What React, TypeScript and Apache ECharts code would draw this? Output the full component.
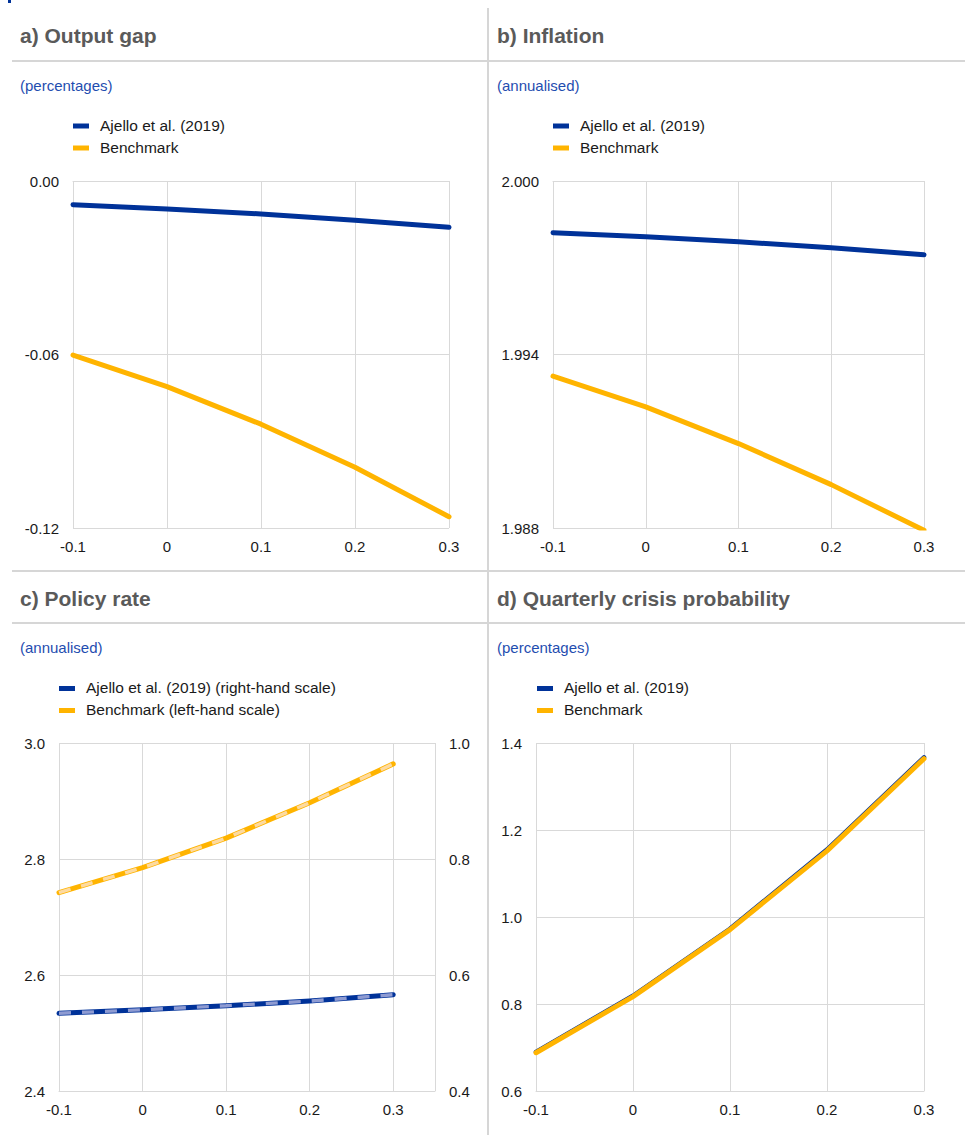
import React, { useEffect, useRef } from "react";
import * as echarts from "echarts";

// ---- data ----
const xValues = [-0.1, 0, 0.1, 0.2, 0.3];
const xTickLabels = ["-0.1", "0", "0.1", "0.2", "0.3"];

const outputGapAjello = [-0.0082, -0.0097, -0.0114, -0.0136, -0.016];
const outputGapBenchmark = [-0.0602, -0.0711, -0.0841, -0.099, -0.1161];

const inflationAjello = [1.99821, 1.99807, 1.9979, 1.99769, 1.99745];
const inflationBenchmark = [1.99325, 1.99219, 1.99092, 1.9895, 1.98792];

const policyAjello = [0.534, 0.54, 0.547, 0.555, 0.566]; // right-hand scale
const policyBenchmark = [2.742, 2.785, 2.836, 2.897, 2.964]; // left-hand scale

const crisisAjello = [0.69, 0.819, 0.973, 1.155, 1.367];
const crisisBenchmark = [0.688, 0.817, 0.971, 1.152, 1.364];

const panelTitles = [
  "a) Output gap",
  "b) Inflation",
  "c) Policy rate",
  "d) Quarterly crisis probability",
];
const panelUnits = ["(percentages)", "(annualised)", "(annualised)", "(percentages)"];
const legendA = ["Ajello et al. (2019)", "Benchmark"];
const legendB = ["Ajello et al. (2019)", "Benchmark"];
const legendC = ["Ajello et al. (2019) (right-hand scale)", "Benchmark (left-hand scale)"];
const legendD = ["Ajello et al. (2019)", "Benchmark"];

const inflationBase = 2.0;

// ---- style ----
const BLUE = "#003299";
const ORANGE = "#FFB400";
const BLUE_LIGHT = "#8e9bd2";
const ORANGE_LIGHT = "#fddaa0";
const GRID_COLOR = "#d9d9d9";
const SEP_COLOR = "#d6d6d6";
const FONT = "'Liberation Sans', Arial, Helvetica, sans-serif";
const TEXT_COLOR = "#1a1a1a";
const TITLE_COLOR = "#5a5a5a";
const UNIT_COLOR = "#1f4db0";

const pair = (ys: number[], shift = 0) => xValues.map((x, i) => [x, ys[i] - shift]);

const fmtX = (v: number) => {
  const r = Math.round(v * 10) / 10;
  const idx = xValues.findIndex((x) => Math.abs(x - r) < 1e-9);
  return idx >= 0 ? xTickLabels[idx] : "";
};

function xAxis(gridIndex: number, max: number) {
  return {
    type: "value",
    gridIndex,
    min: -0.1,
    max,
    interval: 0.1,
    axisLine: { show: true, lineStyle: { color: GRID_COLOR, width: 1 } },
    axisTick: { show: false },
    splitLine: { show: true, lineStyle: { color: GRID_COLOR, width: 1 } },
    axisLabel: {
      color: TEXT_COLOR,
      fontSize: 15,
      fontFamily: FONT,
      margin: 11,
      showMaxLabel: max <= 0.3,
      formatter: (v: number) => fmtX(v),
    },
  };
}

function yAxis(
  gridIndex: number,
  min: number,
  max: number,
  interval: number,
  formatter: (v: number) => string,
  position: "left" | "right" = "left",
  split = true
) {
  return {
    type: "value",
    gridIndex,
    position,
    min,
    max,
    interval,
    axisLine: { show: false },
    axisTick: { show: false },
    splitLine: { show: split, lineStyle: { color: GRID_COLOR, width: 1 } },
    axisLabel: {
      color: TEXT_COLOR,
      fontSize: 15,
      fontFamily: FONT,
      margin: 14,
      formatter,
    },
  };
}

function line(
  name: string,
  xi: number,
  yi: number,
  data: number[][],
  color: string,
  width: number,
  dashed = false
) {
  return {
    type: "line",
    name,
    xAxisIndex: xi,
    yAxisIndex: yi,
    data,
    symbol: "none",
    silent: true,
    lineStyle: dashed
      ? { color, width, type: [12, 11], cap: "butt" }
      : { color, width, cap: "round", join: "round" },
  };
}

function legendBlock(x: number, y: number, names: string[]) {
  const colors = [BLUE, ORANGE];
  const out: any[] = [];
  names.forEach((n, i) => {
    const cy = y + i * 22;
    out.push({
      type: "rect",
      shape: { x, y: cy - 2.5, width: 16, height: 5 },
      style: { fill: colors[i] },
    });
    out.push({
      type: "text",
      x: x + 27,
      y: cy - 1,
      style: {
        text: n,
        fill: TEXT_COLOR,
        font: `15.5px ${FONT}`,
        textAlign: "left",
        textVerticalAlign: "middle",
        align: "left",
        verticalAlign: "middle",
      },
    });
  });
  return out;
}

function titleText(x: number, y: number, t: string) {
  return {
    type: "text",
    x,
    y,
    style: {
      text: t,
      fill: TITLE_COLOR,
      font: `bold 21px ${FONT}`,
      textAlign: "left",
      textVerticalAlign: "middle",
      align: "left",
      verticalAlign: "middle",
    },
  };
}

function unitText(x: number, y: number, t: string) {
  return {
    type: "text",
    x,
    y,
    style: {
      text: t,
      fill: UNIT_COLOR,
      font: `15px ${FONT}`,
      textAlign: "left",
      textVerticalAlign: "middle",
      align: "left",
      verticalAlign: "middle",
    },
  };
}

function hline(x1: number, x2: number, y: number) {
  return {
    type: "line",
    shape: { x1, y1: y, x2, y2: y },
    style: { stroke: SEP_COLOR, lineWidth: 2 },
  };
}

export default function App() {
  const ref = useRef<HTMLDivElement>(null);

  useEffect(() => {
    document.body.style.margin = "0";
    if (!ref.current) return;
    const chart = echarts.init(ref.current, undefined, { renderer: "svg" });

    const option: any = {
      animation: false,
      backgroundColor: "#ffffff",
      textStyle: { fontFamily: FONT },
      grid: [
        { left: 73, top: 181, width: 376, height: 347, containLabel: false, outerBoundsMode: "none" },
        { left: 553, top: 181, width: 371, height: 347, containLabel: false, outerBoundsMode: "none" },
        { left: 59, top: 743, width: 376, height: 348, containLabel: false, outerBoundsMode: "none" },
        { left: 536, top: 743, width: 388, height: 348, containLabel: false, outerBoundsMode: "none" },
      ],
      xAxis: [xAxis(0, 0.3), xAxis(1, 0.3), xAxis(2, 0.35), xAxis(3, 0.3)],
      yAxis: [
        yAxis(0, -0.12, 0, 0.06, (v) => (Math.abs(v) < 1e-12 ? "0.00" : v.toFixed(2))),
        yAxis(1, -0.012, 0, 0.006, (v) => (v + inflationBase).toFixed(3)),
        yAxis(2, 2.4, 3.0, 0.2, (v) => v.toFixed(1)),
        yAxis(2, 0.4, 1.0, 0.2, (v) => v.toFixed(1), "right", false),
        yAxis(3, 0.6, 1.4, 0.2, (v) => v.toFixed(1)),
      ],
      series: [
        line(legendA[0], 0, 0, pair(outputGapAjello), BLUE, 5),
        line(legendA[1], 0, 0, pair(outputGapBenchmark), ORANGE, 5),

        line(legendB[0], 1, 1, pair(inflationAjello, inflationBase), BLUE, 5),
        line(legendB[1], 1, 1, pair(inflationBenchmark, inflationBase), ORANGE, 5),

        line(legendC[0], 2, 3, pair(policyAjello), BLUE, 5),
        line(legendC[0] + " overlay", 2, 3, pair(policyAjello), BLUE_LIGHT, 3.4, true),
        line(legendC[1], 2, 2, pair(policyBenchmark), ORANGE, 5),
        line(legendC[1] + " overlay", 2, 2, pair(policyBenchmark), ORANGE_LIGHT, 3.4, true),

        line(legendD[0], 3, 4, pair(crisisAjello), BLUE, 4.5),
        line(legendD[1], 3, 4, pair(crisisBenchmark), ORANGE, 5),
      ],
      graphic: [
        {
          type: "rect",
          shape: { x: 8, y: 0, width: 3, height: 3 },
          style: { fill: BLUE },
        },
        hline(12, 965, 61),
        hline(12, 965, 571),
        hline(12, 965, 623),
        {
          type: "line",
          shape: { x1: 488, y1: 8, x2: 488, y2: 1135 },
          style: { stroke: SEP_COLOR, lineWidth: 2 },
        },
        titleText(20, 35.5, panelTitles[0]),
        titleText(497, 35.5, panelTitles[1]),
        titleText(20, 598.5, panelTitles[2]),
        titleText(497, 598.5, panelTitles[3]),
        unitText(20, 85, panelUnits[0]),
        unitText(497, 85, panelUnits[1]),
        unitText(20, 647.5, panelUnits[2]),
        unitText(497, 647.5, panelUnits[3]),
        ...legendBlock(73, 126, legendA),
        ...legendBlock(553, 126, legendB),
        ...legendBlock(59, 688.5, legendC),
        ...legendBlock(537, 688.5, legendD),
      ],
    };

    chart.setOption(option);
    return () => {
      chart.dispose();
    };
  }, []);

  return <div ref={ref} style={{ width: 965, height: 1142 }} />;
}
